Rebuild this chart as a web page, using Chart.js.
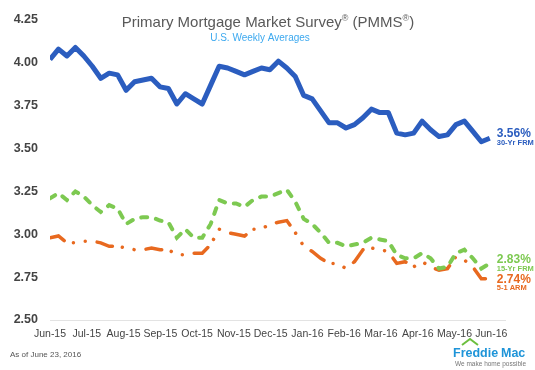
<!DOCTYPE html>
<html>
<head>
<meta charset="utf-8">
<script src="https://cdn.jsdelivr.net/npm/chart.js@4.4.1/dist/chart.umd.min.js"></script>
<style>
  body { margin: 0; background: #fff; }
  #pmmsChrt { display: block; }
</style>
</head>
<body>
<canvas id="pmmsChrt" width="535" height="370"></canvas>
<script>
(function(){

//----Etiquetas del eje X (una por mes)
const monthLabels = ["Jun-15","Jul-15","Aug-15","Sep-15","Oct-15","Nov-15","Dec-15",
                     "Jan-16","Feb-16","Mar-16","Apr-16","May-16","Jun-16"];

//----Etiquetas del eje Y
const yTicks = [2.50, 2.75, 3.00, 3.25, 3.50, 3.75, 4.00, 4.25];

//----Promedios semanales, 25 jun 2015 -> 23 jun 2016
const frm30 = [4.02,4.08,4.04,4.09,4.04,3.98,3.91,3.94,3.93,3.84,3.89,3.90,3.91,3.86,3.85,3.76,3.82,3.79,3.76,3.87,
               3.98,3.97,3.95,3.93,3.95,3.97,3.96,4.01,3.97,3.92,3.81,3.79,3.72,3.65,3.65,3.62,3.64,3.68,3.73,3.71,
               3.71,3.59,3.58,3.59,3.66,3.61,3.57,3.58,3.64,3.66,3.60,3.54,3.56];

const frm15 = [3.21,3.24,3.20,3.25,3.22,3.17,3.13,3.17,3.15,3.06,3.09,3.10,3.10,3.08,3.07,2.98,3.03,2.98,2.98,3.06,
               3.20,3.18,3.18,3.16,3.20,3.22,3.22,3.24,3.26,3.19,3.09,3.06,3.01,2.95,2.95,2.93,2.94,2.95,2.98,2.97,
               2.96,2.88,2.86,2.86,2.89,2.86,2.80,2.81,2.89,2.91,2.86,2.80,2.83];

const arm51 = [2.98,2.99,2.95,2.95,2.96,2.96,2.95,2.93,2.93,2.92,2.91,2.91,2.92,2.91,2.91,2.88,2.88,2.89,2.89,2.94,
               3.03,3.01,3.00,2.99,3.03,3.03,3.06,3.07,3.08,3.01,2.93,2.90,2.86,2.83,2.83,2.80,2.84,2.91,2.92,2.91,
               2.90,2.83,2.84,2.81,2.84,2.81,2.79,2.80,2.87,2.85,2.81,2.74,2.74];

const seriesNames = ["30-Yr FRM", "15-Yr FRM", "5-1 ARM"];
const seriesColors = ["#2b5dbf", "#7dc951", "#e8691f"];

const weeksPerMonth = 365.25 / 12 / 7;

const toPoints = arr => arr.map((v, i) => ({ x: i, y: v }));

const FONT = "'Liberation Sans', Arial, sans-serif";

//----Textos: titulo, etiquetas finales, pie y logo
const textPlugin = {
    id: "textPlugin",
    afterDraw(chart) {
        const c = chart.ctx;
        const xs = chart.scales.x, ys = chart.scales.y;
        c.save();
        c.textBaseline = "alphabetic";

        // titulo con superindices
        const parts = [["Primary Mortgage Market Survey", false], ["®", true], [" (PMMS", false], ["®", true], [")", false]];
        const big = "15px " + FONT, small = "9px " + FONT;
        let total = 0;
        parts.forEach(p => { c.font = p[1] ? small : big; total += c.measureText(p[0]).width; });
        let tx = 268 - total / 2;
        c.fillStyle = "#595959";
        parts.forEach(p => {
            c.font = p[1] ? small : big;
            c.fillText(p[0], tx, p[1] ? 21 : 26.5);
            tx += c.measureText(p[0]).width;
        });

        c.font = "10px " + FONT;
        c.fillStyle = "#3da9ef";
        c.textAlign = "center";
        c.fillText("U.S. Weekly Averages", 260, 41);

        // etiquetas al final de cada serie
        const lastVals = [frm30[frm30.length - 1], frm15[frm15.length - 1], arm51[arm51.length - 1]];
        const offs = [[-1, 7], [0, 8], [4, 11]];
        c.textAlign = "left";
        lastVals.forEach((v, i) => {
            const px = xs.getPixelForValue(frm30.length - 1) + 7;
            const py = ys.getPixelForValue(v);
            c.fillStyle = seriesColors[i];
            c.font = "bold 12px " + FONT;
            c.fillText(v.toFixed(2) + "%", px, py + offs[i][0]);
            c.font = "bold 7.5px " + FONT;
            c.fillText(seriesNames[i], px, py + offs[i][1]);
        });

        // pie
        c.font = "8px " + FONT;
        c.fillStyle = "#555";
        c.fillText("As of June 23, 2016", 10, 357);

        // logo Freddie Mac
        c.font = "bold 12.5px " + FONT;
        c.fillStyle = "#1e94d8";
        c.fillText("Freddie", 453, 357);
        c.fillText("Mac", 501, 357);
        c.strokeStyle = "#6cbf3f";
        c.lineWidth = 2;
        c.beginPath();
        c.moveTo(462, 345);
        c.lineTo(470, 339);
        c.lineTo(478, 345);
        c.stroke();
        c.font = "6.5px " + FONT;
        c.fillStyle = "#777";
        c.fillText("We make home possible", 455, 366);

        c.restore();
    }
};

const ctx = document.querySelector("#pmmsChrt");

let myChart = new Chart(ctx, {
    type: "line",
    data: {
        datasets: [{
            label: seriesNames[0],
            data: toPoints(frm30),
            borderColor: seriesColors[0],
            borderWidth: 5,
            borderJoinStyle: "round"
        }, {
            label: seriesNames[1],
            data: toPoints(frm15),
            borderColor: seriesColors[1],
            borderWidth: 4,
            borderDash: [6, 9],
            borderCapStyle: "round"
        }, {
            label: seriesNames[2],
            data: toPoints(arm51),
            borderColor: seriesColors[2],
            borderWidth: 3.5,
            borderDash: [16, 10, 0.01, 12, 0.01, 12],
            borderCapStyle: "round"
        }]
    },
    options: {
        responsive: false,
        animation: false,
        elements: { point: { radius: 0 }, line: { tension: 0 } },
        layout: { padding: { top: 20, right: 30, left: 0, bottom: 0 } },
        plugins: { legend: { display: false }, tooltip: { enabled: false } },
        scales: {
            x: {
                type: "linear",
                min: 0,
                max: 53.8,
                grid: { display: false, drawTicks: false },
                border: { display: true, color: "#e3e3e3", width: 1 },
                ticks: {
                    autoSkip: false,
                    maxRotation: 0,
                    padding: 8,
                    color: "#444",
                    font: { family: FONT, size: 10.5 },
                    callback: (v, i) => monthLabels[i]
                },
                afterBuildTicks: s => { s.ticks = monthLabels.map((m, i) => ({ value: i * weeksPerMonth })); },
                afterFit: s => { s.height = 50; }
            },
            y: {
                min: yTicks[0],
                max: yTicks[yTicks.length - 1],
                grid: { display: false, drawTicks: false },
                border: { display: false },
                ticks: {
                    padding: 12,
                    color: "#444",
                    font: { family: FONT, size: 12.5, weight: "bold" },
                    callback: v => v.toFixed(2)
                },
                afterBuildTicks: s => { s.ticks = yTicks.map(v => ({ value: v })); },
                afterFit: s => { s.width = 50; }
            }
        }
    },
    plugins: [textPlugin]
});

})();
</script>
</body>
</html>
